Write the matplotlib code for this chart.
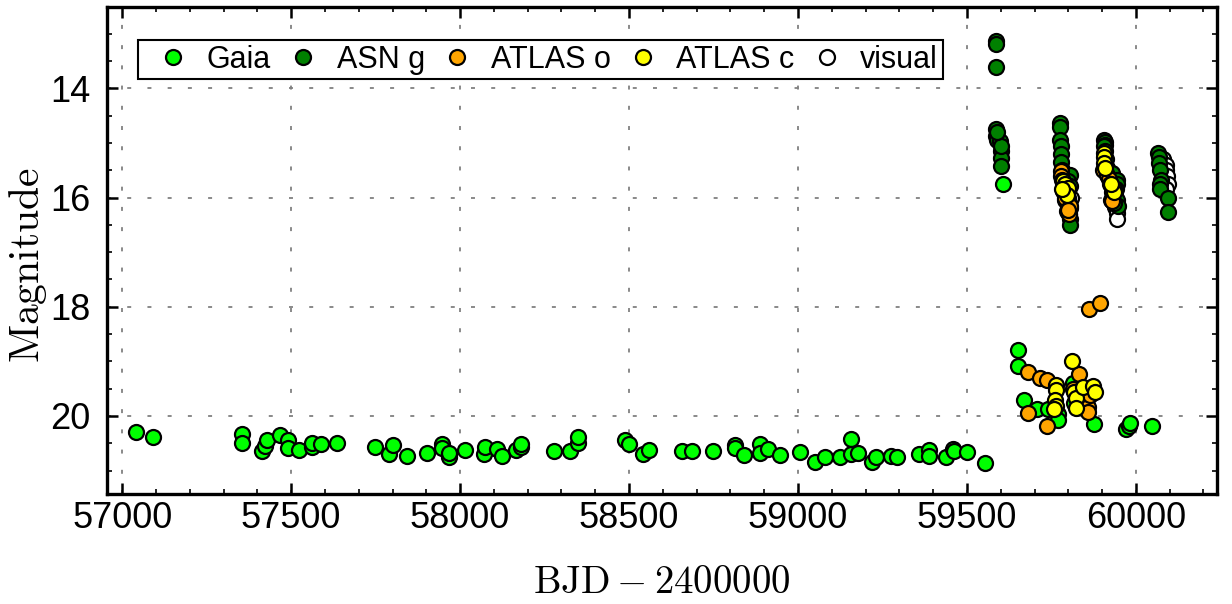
import matplotlib
matplotlib.use("Agg")
import matplotlib.pyplot as plt
from matplotlib.ticker import MultipleLocator

plt.rcParams['font.family'] = ['Liberation Sans', 'DejaVu Sans']
plt.rcParams['mathtext.fontset'] = 'cm'

# ---------------- data (BJD-2400000, magnitude) ----------------
gaia_t = [57040, 57091, 57354, 57354, 57415, 57423, 57428, 57467, 57490, 57492,
          57524, 57562, 57562, 57587, 57637, 57749, 57791, 57802, 57844, 57901,
          57946, 57946, 57967, 57967, 58015, 58072, 58074, 58109, 58125, 58166,
          58180, 58180, 58278, 58325, 58348, 58350, 58488, 58501, 58542, 58559,
          58656, 58685, 58747, 58814, 58814, 58840, 58888, 58888, 58910, 58948,
          59006, 59049, 59080, 59123, 59156, 59156, 59179, 59218, 59231, 59274,
          59292, 59358, 59388, 59388, 59438, 59460, 59462, 59499, 59554, 59607,
          59650, 59650, 59670, 59706, 59741, 59768, 59768, 59814, 59817, 59876,
          59972, 59980, 59984, 60048]
gaia_m = [20.30, 20.38, 20.34, 20.49, 20.64, 20.55, 20.45, 20.35, 20.45, 20.58,
          20.62, 20.56, 20.49, 20.51, 20.49, 20.57, 20.70, 20.54, 20.73, 20.67,
          20.52, 20.58, 20.76, 20.68, 20.63, 20.70, 20.57, 20.60, 20.73, 20.62,
          20.56, 20.52, 20.64, 20.64, 20.50, 20.39, 20.44, 20.51, 20.69, 20.62,
          20.64, 20.65, 20.65, 20.53, 20.58, 20.72, 20.52, 20.68, 20.61, 20.72,
          20.66, 20.84, 20.76, 20.76, 20.43, 20.70, 20.68, 20.84, 20.76, 20.73,
          20.76, 20.70, 20.62, 20.73, 20.75, 20.61, 20.65, 20.66, 20.87, 15.76,
          18.79, 19.08, 19.71, 19.88, 19.88, 19.97, 20.07, 19.40, 19.77, 20.15,
          20.24, 20.19, 20.13, 20.19]

asn_t = [59587, 59587, 59587, 59586, 59587, 59588, 59598, 59600, 59602, 59602,
         59600, 59590,
         59775, 59776, 59776, 59777, 59777, 59779, 59782, 59805, 59800, 59806,
         59795, 59800, 59803, 59806, 59803, 59806, 59804,
         59905, 59908, 59910, 59906, 59908, 59912, 59915, 59930, 59943, 59945,
         59940, 59938, 59943, 59948, 59935,
         60066, 60068, 60068, 60070, 60073, 60072, 60072, 60095, 60096]
asn_m = [13.13, 13.18, 13.61, 14.75, 14.87, 14.94, 14.97, 15.14, 15.27, 15.42,
         15.05, 14.80,
         14.64, 14.70, 14.94, 15.06, 15.21, 15.35, 15.50, 15.58, 15.70, 15.79,
         15.90, 16.00, 16.10, 16.20, 16.30, 16.40, 16.50,
         14.95, 14.99, 15.03, 15.06, 15.15, 15.30, 15.45, 15.55, 15.67, 15.76,
         15.85, 15.95, 16.04, 16.16, 16.10,
         15.18, 15.25, 15.36, 15.50, 15.67, 15.76, 15.85, 16.01, 16.27]

atlas_o_t = [59777, 59779, 59782, 59785, 59790, 59805, 59803, 59800,
             59903, 59915, 59920, 59923, 59928, 59925, 59930,
             59682, 59716, 59738, 59682, 59738, 59832, 59814, 59859, 59857,
             59864, 59862, 59893]
atlas_o_m = [15.52, 15.60, 15.67, 15.88, 16.00, 16.16, 16.31, 16.22,
             15.49, 15.58, 15.66, 15.75, 15.90, 16.04, 16.07,
             19.20, 19.31, 19.34, 19.94, 20.18, 19.23, 19.51, 19.83, 19.93,
             19.61, 18.04, 17.94]

atlas_c_t = [59783, 59790, 59799, 59795, 59780,
             59905, 59905, 59906, 59910, 59934, 59936, 59925,
             59812, 59763, 59765, 59760, 59763, 59757, 59817, 59824, 59824,
             59844, 59872, 59879]
atlas_c_m = [15.70, 15.75, 15.82, 15.95, 15.85,
             15.18, 15.25, 15.36, 15.45, 15.85, 15.89, 15.75,
             19.00, 19.43, 19.52, 19.71, 19.82, 19.88, 19.57, 19.68, 19.86,
             19.47, 19.45, 19.57]

visual_t = [59790, 59800, 59795, 59808,
            59935, 59940, 59938, 59943, 59943,
            60080, 60089, 60089, 60092, 60095, 60090]
visual_m = [16.05, 16.15, 16.25, 16.00,
            15.95, 16.05, 16.17, 16.28, 16.40,
            15.30, 15.40, 15.50, 15.60, 15.76, 15.85]

labels = ['Gaia', 'ASN g', 'ATLAS o', 'ATLAS c', 'visual']

# ---------------- figure ----------------
fig = plt.figure(figsize=(12.32, 6.04), dpi=100)
ax = fig.add_axes([107/1232, 1 - 494/604, 1110/1232, 487/604])

mk = dict(marker='o', linestyle='none', markersize=10.8,
          markeredgecolor='black', markeredgewidth=1.6)
h_vis, = ax.plot(visual_t, visual_m, markerfacecolor='white', zorder=2, **mk)
h_gaia, = ax.plot(gaia_t, gaia_m, markerfacecolor='#00ff00', zorder=3, **mk)
h_asn, = ax.plot(asn_t, asn_m, markerfacecolor='#008000', zorder=4, **mk)
h_ao, = ax.plot(atlas_o_t, atlas_o_m, markerfacecolor='#ffa500', zorder=5, **mk)
h_ac, = ax.plot(atlas_c_t, atlas_c_m, markerfacecolor='#ffff00', zorder=6, **mk)

ax.set_xlim(56955, 60240)
ax.set_ylim(21.43, 12.51)

ax.xaxis.set_major_locator(MultipleLocator(500))
ax.xaxis.set_minor_locator(MultipleLocator(100))
ax.yaxis.set_major_locator(MultipleLocator(2))
ax.yaxis.set_minor_locator(MultipleLocator(0.5))

ax.tick_params(which='both', direction='in', top=True, right=True,
               labelsize=26, colors='black')
ax.tick_params(which='major', length=8, width=1.8)
ax.tick_params(which='minor', length=3.5, width=1.2)
ax.tick_params(axis='x', which='major', pad=5)
ax.tick_params(axis='y', which='major', pad=12)

for s in ax.spines.values():
    s.set_linewidth(2.4)
    s.set_color('black')

ax.grid(True, which='major', color='#808080', linewidth=1.3,
        linestyle=(0, (2.2, 9.0)), zorder=0)
ax.set_axisbelow(True)

ax.set_xlabel(r'$\mathrm{BJD}-2400000$', fontsize=28)
ax.set_ylabel(r'$\mathrm{Magnitude}$', fontsize=30)
ax.xaxis.set_label_coords(0.5, -0.145)
ax.yaxis.set_label_coords(-0.052, 0.47)

leg = ax.legend([h_gaia, h_asn, h_ao, h_ac, h_vis], labels, ncol=5,
                loc='upper left', bbox_to_anchor=(0.0279, 0.5, 0.725, 0.432),
                mode='expand', borderaxespad=0, fontsize=22,
                handlelength=2.0, handletextpad=0.1, columnspacing=0.6,
                borderpad=0.15, frameon=True, fancybox=False, framealpha=1,
                edgecolor='black')
leg.get_frame().set_linewidth(1.5)

fig.savefig('out.png', dpi=100)
